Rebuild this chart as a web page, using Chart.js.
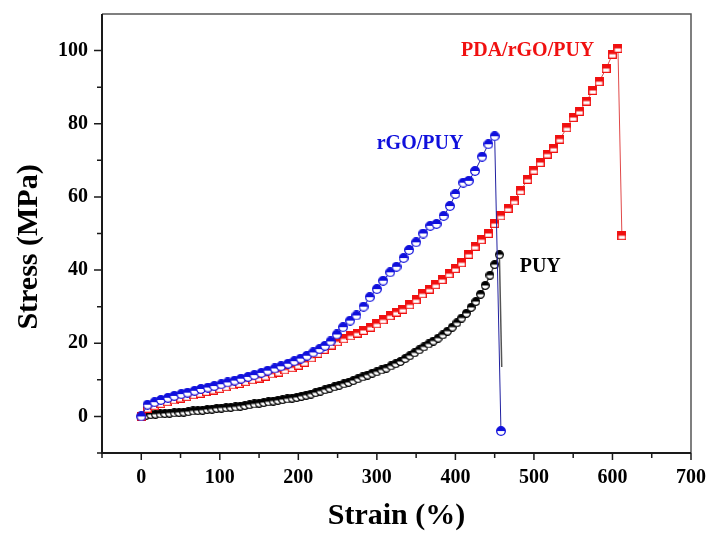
<!DOCTYPE html>
<html>
<head>
<meta charset="utf-8">
<script src="https://cdn.jsdelivr.net/npm/chart.js"></script>
<style>
  body { margin: 0; background: #fff; }
  #chart { display: block; }
</style>
</head>
<body>
<canvas id="chart" width="709" height="533"></canvas>
<script>
// Data (strain %, stress MPa)
const seriesNames = ['rGO/PUY', 'PDA/rGO/PUY', 'PUY'];

const rgoStrain = [0, 8, 17, 25, 34, 42, 51, 59, 68, 76, 85, 93, 102, 110, 119, 127, 136, 144, 153, 161,
    170, 178, 187, 195, 203, 211, 219, 227, 234, 241, 249, 257, 266, 274, 283, 291, 300, 308, 317, 325,
    334, 341, 350, 359, 368, 376, 385, 393, 400, 410, 417, 425, 434, 442, 450, 458];
const rgoStress = [0, 3.2, 3.9, 4.5, 5.1, 5.6, 6.1, 6.5, 7.0, 7.5, 7.9, 8.3, 8.8, 9.3, 9.8, 10.3, 10.8, 11.3, 11.9, 12.5,
    13.1, 13.7, 14.4, 15.1, 15.8, 16.6, 17.5, 18.4, 19.3, 20.5, 22.4, 24.4, 26.2, 27.6, 30.0, 32.6, 34.8, 37.1, 39.4, 40.9,
    43.3, 45.5, 47.6, 50.0, 52.1, 52.6, 54.8, 57.5, 60.8, 63.9, 64.4, 67.1, 71.0, 74.4, 76.6, -4.0];

const pdaStrain = [0, 8, 17, 25, 33, 42, 50, 58, 67, 75, 83, 92, 100, 108, 117, 125, 133, 142, 150, 158,
    167, 175, 183, 192, 200, 208, 217, 225, 233, 242, 250, 258, 267, 275, 283, 292, 300, 308, 317, 325,
    333, 342, 350, 358, 367, 375, 383, 392, 400, 408, 417, 425, 433, 442, 450, 458, 467, 475, 483, 492,
    500, 508, 517, 525, 533, 542, 550, 558, 567, 575, 583, 592, 600, 607, 612];
const pdaStress = [0, 2.2, 2.9, 3.5, 4.0, 4.5, 5.0, 5.4, 5.9, 6.3, 6.8, 7.2, 7.6, 8.1, 8.6, 9.0, 9.5, 10.0, 10.5, 11.0,
    11.6, 12.1, 12.7, 13.3, 14.0, 14.8, 16.0, 17.2, 18.3, 19.5, 20.4, 21.2, 22.0, 22.8, 23.5, 24.4, 25.3, 26.4, 27.5, 28.5,
    29.3, 30.5, 31.9, 33.5, 34.8, 36.0, 37.4, 39.0, 40.4, 42.0, 44.3, 46.5, 48.3, 50.0, 52.7, 54.8, 56.9, 58.9, 61.7, 64.8,
    67.3, 69.4, 71.7, 73.3, 75.8, 78.9, 81.7, 83.4, 86.2, 89.1, 91.5, 95.1, 99.0, 100.6, 49.4];

const puyStrain = [0, 6, 12, 18, 24, 30, 36, 42, 48, 54, 60, 66, 72, 78, 84, 90, 96, 102, 108, 114,
    120, 126, 132, 138, 144, 150, 156, 162, 168, 174, 180, 186, 192, 198, 204, 210, 216, 222, 228, 234,
    240, 246, 252, 258, 264, 270, 276, 282, 288, 294, 300, 306, 312, 318, 324, 330, 336, 342, 348, 354,
    360, 366, 372, 378, 384, 390, 396, 402, 408, 414, 420, 426, 432, 438, 444, 450, 456, 459];
const puyStress = [0, 0.3, 0.5, 0.6, 0.7, 0.8, 0.9, 1.0, 1.1, 1.2, 1.3, 1.5, 1.6, 1.7, 1.9, 2.0, 2.2, 2.3, 2.4, 2.5,
    2.6, 2.8, 3.0, 3.2, 3.4, 3.6, 3.8, 4.0, 4.2, 4.4, 4.6, 4.8, 5.0, 5.2, 5.5, 5.8, 6.1, 6.5, 6.9, 7.3,
    7.7, 8.1, 8.5, 8.9, 9.3, 9.8, 10.3, 10.8, 11.3, 11.8, 12.2, 12.7, 13.2, 13.8, 14.4, 15.0, 15.8, 16.6, 17.4, 18.2,
    19.0, 19.8, 20.6, 21.4, 22.3, 23.3, 24.4, 25.6, 26.9, 28.2, 29.8, 31.4, 33.4, 35.8, 38.6, 41.5, 44.2, 13.5];

const xTicks = [0, 100, 200, 300, 400, 500, 600, 700];
const yTicks = [0, 20, 40, 60, 80, 100];
const xMinor = [-50, 50, 150, 250, 350, 450, 550, 650];
const yMinor = [-10, 10, 30, 50, 70, 90];

// label anchors in data units
const labelPos = [[355, 74.4], [492, 99.9], [508, 41]];

const FONT = '"Liberation Serif", "Times New Roman", serif';
const RED = '#f01010';
const BLUE = '#1010dc';
const BLACK = '#000000';

function toPoints(xs, ys) {
    return xs.map((x, i) => ({ x: x, y: ys[i] }));
}

// half filled marker: coloured top, white bottom
function halfMarker(shape, color, size) {
    const c = document.createElement('canvas');
    c.width = size;
    c.height = size;
    const g = c.getContext('2d');
    const m = size / 2;
    const path = () => {
        g.beginPath();
        if (shape === 'circle') g.arc(m, m, m - 0.7, 0, Math.PI * 2);
        else g.rect(0.7, 0.7, size - 1.4, size - 1.4);
    };
    path();
    g.fillStyle = '#fff';
    g.fill();
    g.save();
    g.beginPath();
    g.rect(0, 0, size, m);
    g.clip();
    path();
    g.fillStyle = color;
    g.fill();
    g.restore();
    path();
    g.lineWidth = 1.3;
    g.strokeStyle = color;
    g.stroke();
    return c;
}

const frameAndTicks = {
    id: 'frameAndTicks',
    afterDraw(chart) {
        const { ctx, chartArea: a, scales } = chart;
        const xs = scales.x, ys = scales.y;
        ctx.save();
        // top and right borders
        ctx.strokeStyle = '#555';
        ctx.lineWidth = 1.5;
        ctx.beginPath();
        ctx.moveTo(a.left, a.top);
        ctx.lineTo(a.right, a.top);
        ctx.lineTo(a.right, a.bottom);
        ctx.stroke();
        // left and bottom axes
        ctx.strokeStyle = '#1a1a1a';
        ctx.lineWidth = 2;
        ctx.beginPath();
        ctx.moveTo(a.left, a.top);
        ctx.lineTo(a.left, a.bottom);
        ctx.lineTo(a.right, a.bottom);
        ctx.stroke();
        // ticks
        ctx.lineWidth = 1.5;
        ctx.beginPath();
        xTicks.forEach(v => { const p = xs.getPixelForValue(v); ctx.moveTo(p, a.bottom); ctx.lineTo(p, a.bottom + 7); });
        xMinor.forEach(v => { const p = xs.getPixelForValue(v); ctx.moveTo(p, a.bottom); ctx.lineTo(p, a.bottom + 5); });
        yTicks.forEach(v => { const p = ys.getPixelForValue(v); ctx.moveTo(a.left, p); ctx.lineTo(a.left - 8, p); });
        yMinor.forEach(v => { const p = ys.getPixelForValue(v); ctx.moveTo(a.left, p); ctx.lineTo(a.left - 5, p); });
        ctx.stroke();

        // tick labels
        ctx.fillStyle = '#000';
        ctx.font = 'bold 20px ' + FONT;
        ctx.textBaseline = 'middle';
        ctx.textAlign = 'right';
        yTicks.forEach(v => ctx.fillText(String(v), a.left - 14, ys.getPixelForValue(v)));
        ctx.textAlign = 'center';
        xTicks.forEach(v => ctx.fillText(String(v), xs.getPixelForValue(v), a.bottom + 25));

        // axis titles
        ctx.font = 'bold 30px ' + FONT;
        ctx.fillText('Strain (%)', (a.left + a.right) / 2, 516);
        ctx.save();
        ctx.translate(29, 247);
        ctx.rotate(-Math.PI / 2);
        ctx.fillText('Stress (MPa)', 0, 0);
        ctx.restore();

        // series labels
        const colors = [BLUE, RED, BLACK];
        ctx.font = 'bold 20px ' + FONT;
        seriesNames.forEach((name, i) => {
            ctx.fillStyle = colors[i];
            ctx.fillText(name, xs.getPixelForValue(labelPos[i][0]), ys.getPixelForValue(labelPos[i][1]));
        });
        ctx.restore();
    }
};

const ctx = document.getElementById('chart').getContext('2d');
new Chart(ctx, {
    type: 'scatter',
    data: {
        datasets: [{
            label: seriesNames[0],
            data: toPoints(rgoStrain, rgoStress),
            showLine: true,
            borderColor: '#2020a0',
            borderWidth: 1,
            pointStyle: halfMarker('circle', BLUE, 10),
            pointRadius: 4
        }, {
            label: seriesNames[1],
            data: toPoints(pdaStrain, pdaStress),
            showLine: true,
            borderColor: '#e04848',
            borderWidth: 1,
            pointStyle: halfMarker('square', RED, 9),
            pointRadius: 4
        }, {
            label: seriesNames[2],
            data: toPoints(puyStrain, puyStress),
            showLine: true,
            borderColor: '#555',
            borderWidth: 1.5,
            pointStyle: halfMarker('circle', BLACK, 9),
            pointRadius: ctx => ctx.dataIndex === puyStrain.length - 1 ? 0 : 4
        }]
    },
    options: {
        responsive: false,
        animation: false,
        devicePixelRatio: 1,
        layout: { padding: { top: 14, right: 18, left: 0, bottom: 0 } },
        plugins: {
            legend: { display: false },
            tooltip: { enabled: false }
        },
        scales: {
            x: {
                type: 'linear',
                min: -50,
                max: 700,
                afterBuildTicks: s => { s.ticks = xTicks.map(v => ({ value: v })); },
                afterFit: s => { s.height = 80; },
                grid: { display: false, drawTicks: false },
                border: { display: false },
                ticks: { display: false }
            },
            y: {
                type: 'linear',
                min: -10,
                max: 110,
                afterBuildTicks: s => { s.ticks = yTicks.map(v => ({ value: v })); },
                afterFit: s => { s.width = 102; },
                grid: { display: false, drawTicks: false },
                border: { display: false },
                ticks: { display: false }
            }
        }
    },
    plugins: [frameAndTicks]
});
</script>
</body>
</html>
